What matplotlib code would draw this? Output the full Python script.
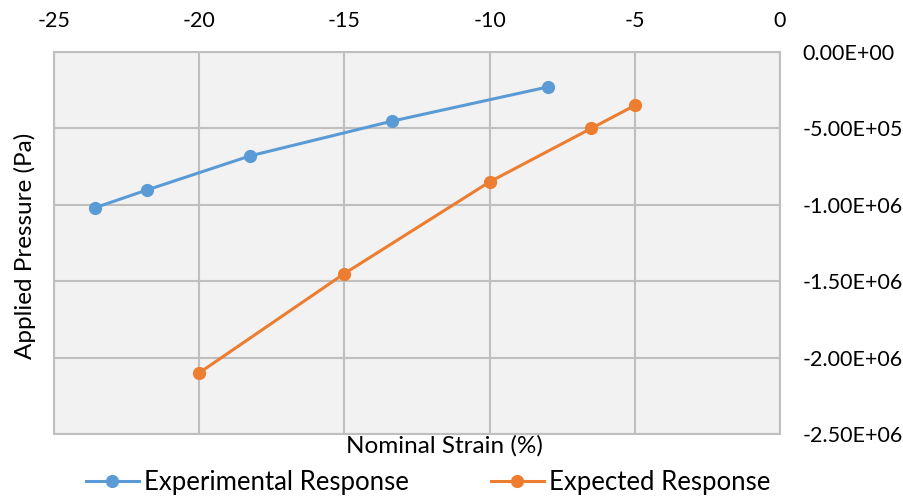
import matplotlib
matplotlib.use("Agg")
import matplotlib.pyplot as plt
from matplotlib.ticker import FuncFormatter

plt.rcParams['font.family'] = ['Lato', 'DejaVu Sans']
plt.rcParams['axes.unicode_minus'] = False

# Experimental vs expected response data
exp_strain = [-23.6, -21.8, -18.25, -13.35, -8.0]
exp_pressure = [-1.02e6, -9.03e5, -6.8e5, -4.52e5, -2.29e5]

calc_strain = [-20.0, -15.0, -10.0, -6.5, -5.0]
calc_pressure = [-2.10e6, -1.45e6, -8.5e5, -5.0e5, -3.5e5]

x_ticks = [-25, -20, -15, -10, -5, 0]
y_ticks = [0, -5e5, -1e6, -1.5e6, -2e6, -2.5e6]

blue = "#5B9BD5"
orange = "#ED7D31"
grid_c = "#BFBFBF"

fig = plt.figure(figsize=(9.04, 4.98), dpi=100)
ax = fig.add_axes([54/904, 1-434/498, (780-54)/904, (434-52)/498])
ax.set_facecolor("#F2F2F2")

ax.plot(exp_strain, exp_pressure, color=blue, lw=2.2, marker='o', ms=8.5,
        label="Experimental Response", zorder=3)
ax.plot(calc_strain, calc_pressure, color=orange, lw=2.2, marker='o', ms=8.5,
        label="Expected Response", zorder=3)

ax.set_xlim(-25, 0)
ax.set_ylim(-2.5e6, 0)
ax.set_xticks(x_ticks)
ax.set_yticks(y_ticks)
ax.xaxis.tick_top()
ax.yaxis.tick_right()
ax.yaxis.set_major_formatter(FuncFormatter(lambda v, p: f"{v:.2E}"))
ax.tick_params(axis='x', length=0, pad=15, labelsize=15.5)
ax.tick_params(axis='y', length=0, pad=16, labelsize=15.5)
for lab in ax.get_yticklabels():
    lab.set_horizontalalignment('left')

ax.grid(True, color=grid_c, lw=1.5)
ax.set_axisbelow(True)
for s in ax.spines.values():
    s.set_color(grid_c)
    s.set_linewidth(1.5)

fig.text(25/904, 1-246/498, "Applied Pressure (Pa)", rotation=90,
         ha='center', va='center', fontsize=17.5)
fig.text(444/904, 1-446/498, "Nominal Strain (%)", ha='center', va='center',
         fontsize=17.5)

fig.legend(loc='center', bbox_to_anchor=(428/904, 1-482/498), ncol=2,
           frameon=False, fontsize=18.5, handlelength=2.06, columnspacing=3.2,
           handletextpad=0.2, borderaxespad=0, borderpad=0)

fig.savefig("out.png", dpi=100)
